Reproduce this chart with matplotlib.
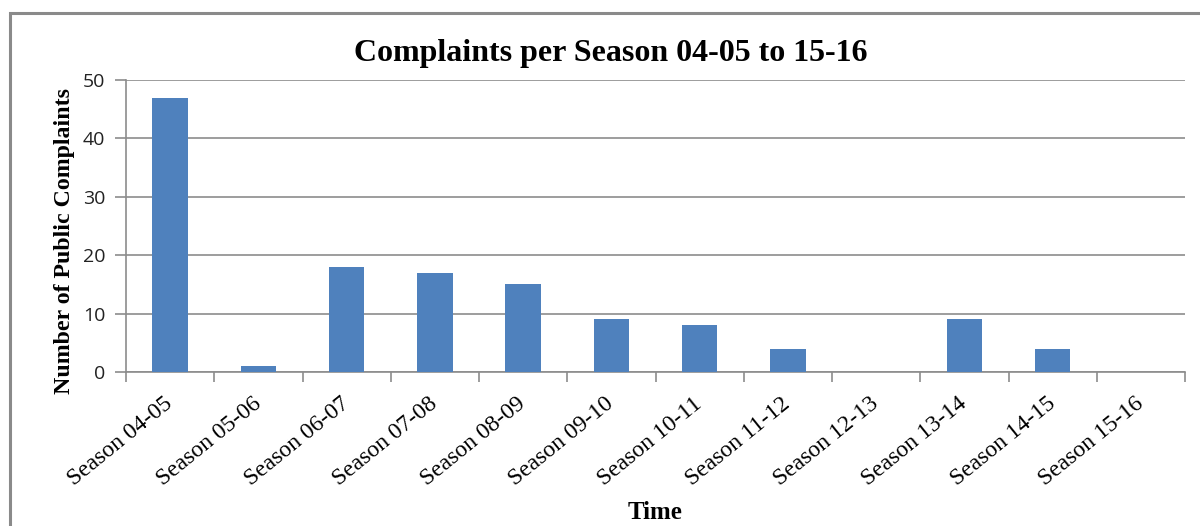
import numpy as np
import matplotlib.pyplot as plt
from matplotlib.patches import Rectangle

seasons = ['Season 04-05', 'Season 05-06', 'Season 06-07', 'Season 07-08',
           'Season 08-09', 'Season 09-10', 'Season 10-11', 'Season 11-12',
           'Season 12-13', 'Season 13-14', 'Season 14-15', 'Season 15-16']
complaints = [47, 1, 18, 17, 15, 9, 8, 4, 0, 9, 4, 0]
y_ticks = [0, 10, 20, 30, 40, 50]

fig = plt.figure(figsize=(12, 5.26), dpi=100)
ax = fig.add_axes([0.105, 0.2928, 0.8825, 0.5551])

x = np.arange(len(seasons))
ax.bar(x, complaints, width=0.4, color='#4F81BD', zorder=3)

ax.set_xlim(-0.5, len(seasons) - 0.5)
ax.set_ylim(0, 50)
ax.set_yticks(y_ticks)
ax.set_yticklabels([str(v) for v in y_ticks], family='Open Sans', fontsize=14, color='#222222')
ax.set_xticks(x)
ax.set_xticklabels(seasons, rotation=39, ha='right', va='center', rotation_mode='anchor',
                   family='Liberation Serif', fontsize=17)
ax.set_xticks(np.arange(-0.5, len(seasons)), minor=True)
ax.tick_params(axis='x', which='major', length=0, pad=21)
ax.tick_params(axis='x', which='minor', length=7, color='#8c8c8c', width=1.2)
ax.tick_params(axis='y', length=8, color='#8c8c8c', width=1.2, pad=7)

ax.grid(axis='y', color='#8c8c8c', linewidth=1.2, zorder=0)
for s in ['top', 'right']:
    ax.spines[s].set_visible(False)
for s in ['left', 'bottom']:
    ax.spines[s].set_color('#8c8c8c')
    ax.spines[s].set_linewidth(1.2)

fig.text(0.509, 0.899, 'Complaints per Season 04-05 to 15-16', ha='center', va='center',
         family='Liberation Serif', fontweight='bold', fontsize=23)
fig.text(0.546, 0.025, 'Time', ha='center', va='center',
         family='Liberation Serif', fontweight='bold', fontsize=18)
fig.text(0.054, 0.542, 'Number of Public Complaints', ha='center', va='center', rotation=90,
         family='Liberation Serif', fontweight='bold', fontsize=17.2)

# Rahmen um das Diagramm
fig.patches.append(Rectangle((10 / 1200, -0.1), 1.2, 1 - 13 / 526 + 0.1,
                             transform=fig.transFigure, fill=False,
                             edgecolor='#8a8a8a', linewidth=2.2))

fig.savefig('out.png', dpi=100)
